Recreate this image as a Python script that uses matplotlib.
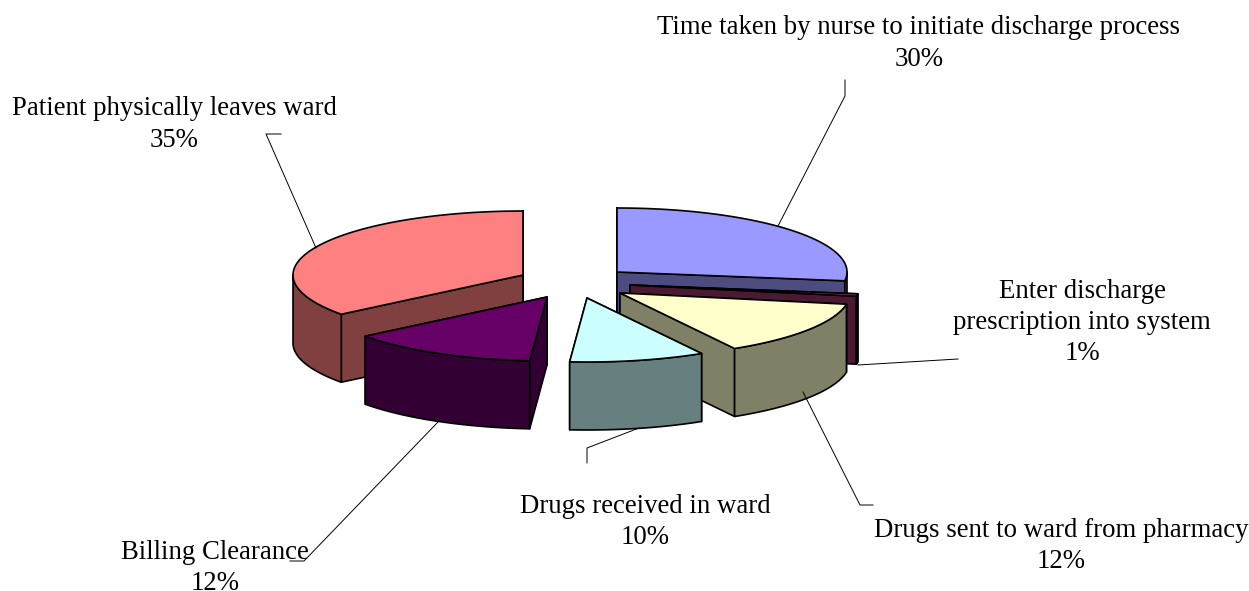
import numpy as np
import matplotlib
matplotlib.use('Agg')
import matplotlib.pyplot as plt

# Slices, clockwise from 12 o'clock
labels = ['Time taken by nurse to initiate discharge process',
          'Enter discharge\nprescription into system',
          'Drugs sent to ward from pharmacy',
          'Drugs received in ward',
          'Billing Clearance',
          'Patient physically leaves ward']
printed_pct = [30, 1, 12, 10, 12, 35]
# Sweep of each wedge as it looks in the picture (3D view skews them a bit)
drawn_pct = [27.2, 0.6, 13.9, 9.5, 13.3, 35.5]

top_colors = ['#9999FF', '#993366', '#FFFFCC', '#CCFFFF', '#660066', '#FF8080']
side_colors = ['#4C4C80', '#4C1933', '#808066', '#668080', '#330033', '#804040']

# Layout, in pixels of the 1249x591 picture
apex = [(617, 272), (630, 285), (620, 293), (587, 298), (547, 297), (523, 275)]
label_pos = [(919, 43.5), (1082, 322.5), (1061, 546), (645, 522), (215, 568), (174, 124.5)]
leaders = [[(778, 226), (845, 96), (845, 80)],
           [(858, 365), (958, 359)],
           [(803, 392), (860, 505), (873, 505)],
           [(639, 428), (587, 448), (587, 463)],
           [(438, 422), (304, 561), (290, 561)],
           [(316, 248), (266, 134), (281, 134)]]
rx, ry, depth = 230, 64, 68
draw_order = [0, 1, 2, 5, 4, 3]

plt.rcParams['font.family'] = ['Liberation Serif', 'DejaVu Serif']

fig = plt.figure(figsize=(12.49, 5.91), dpi=100)
ax = fig.add_axes([0, 0, 1, 1])
ax.set_xlim(0, 1249)
ax.set_ylim(591, 0)
ax.axis('off')


def arc(cx, cy, a1, a2):
    t = np.radians(np.linspace(a1, a2, 80))
    return cx + rx * np.sin(t), cy - ry * np.cos(t)


edges = np.concatenate([[0], np.cumsum(drawn_pct)]) * 3.6


def draw_slice(i):
    cx, cy = apex[i]
    a1, a2 = edges[i], edges[i + 1]
    x, y = arc(cx, cy, a1, a2)
    style = dict(edgecolor='black', linewidth=1.2, joinstyle='round')

    # flat cut faces, the one facing the viewer goes last
    faces = [(x[0], y[0]), (x[-1], y[-1])]
    if a1 >= 180:
        faces = faces[::-1]
    for px, py in faces:
        ax.fill([cx, px, px, cx], [cy, py, py + depth, cy + depth],
                facecolor=side_colors[i], **style)

    # rim, only the part facing the viewer
    lo, hi = max(a1, 90), min(a2, 270)
    if lo < hi:
        wx, wy = arc(cx, cy, lo, hi)
        ax.fill(np.r_[wx, wx[::-1]], np.r_[wy, wy[::-1] + depth],
                facecolor=side_colors[i], **style)

    ax.fill(np.r_[cx, x], np.r_[cy, y], facecolor=top_colors[i], **style)


for i in draw_order:
    draw_slice(i)

for pts in leaders:
    xs, ys = zip(*pts)
    ax.plot(xs, ys, color='black', linewidth=0.7, zorder=5)

for name, pct, (tx, ty) in zip(labels, printed_pct, label_pos):
    ax.text(tx, ty, f'{name}\n{pct}%', ha='center', va='center', fontsize=19.25,
            color='black', linespacing=1.32, zorder=6)

fig.savefig('out.png', dpi=100)
